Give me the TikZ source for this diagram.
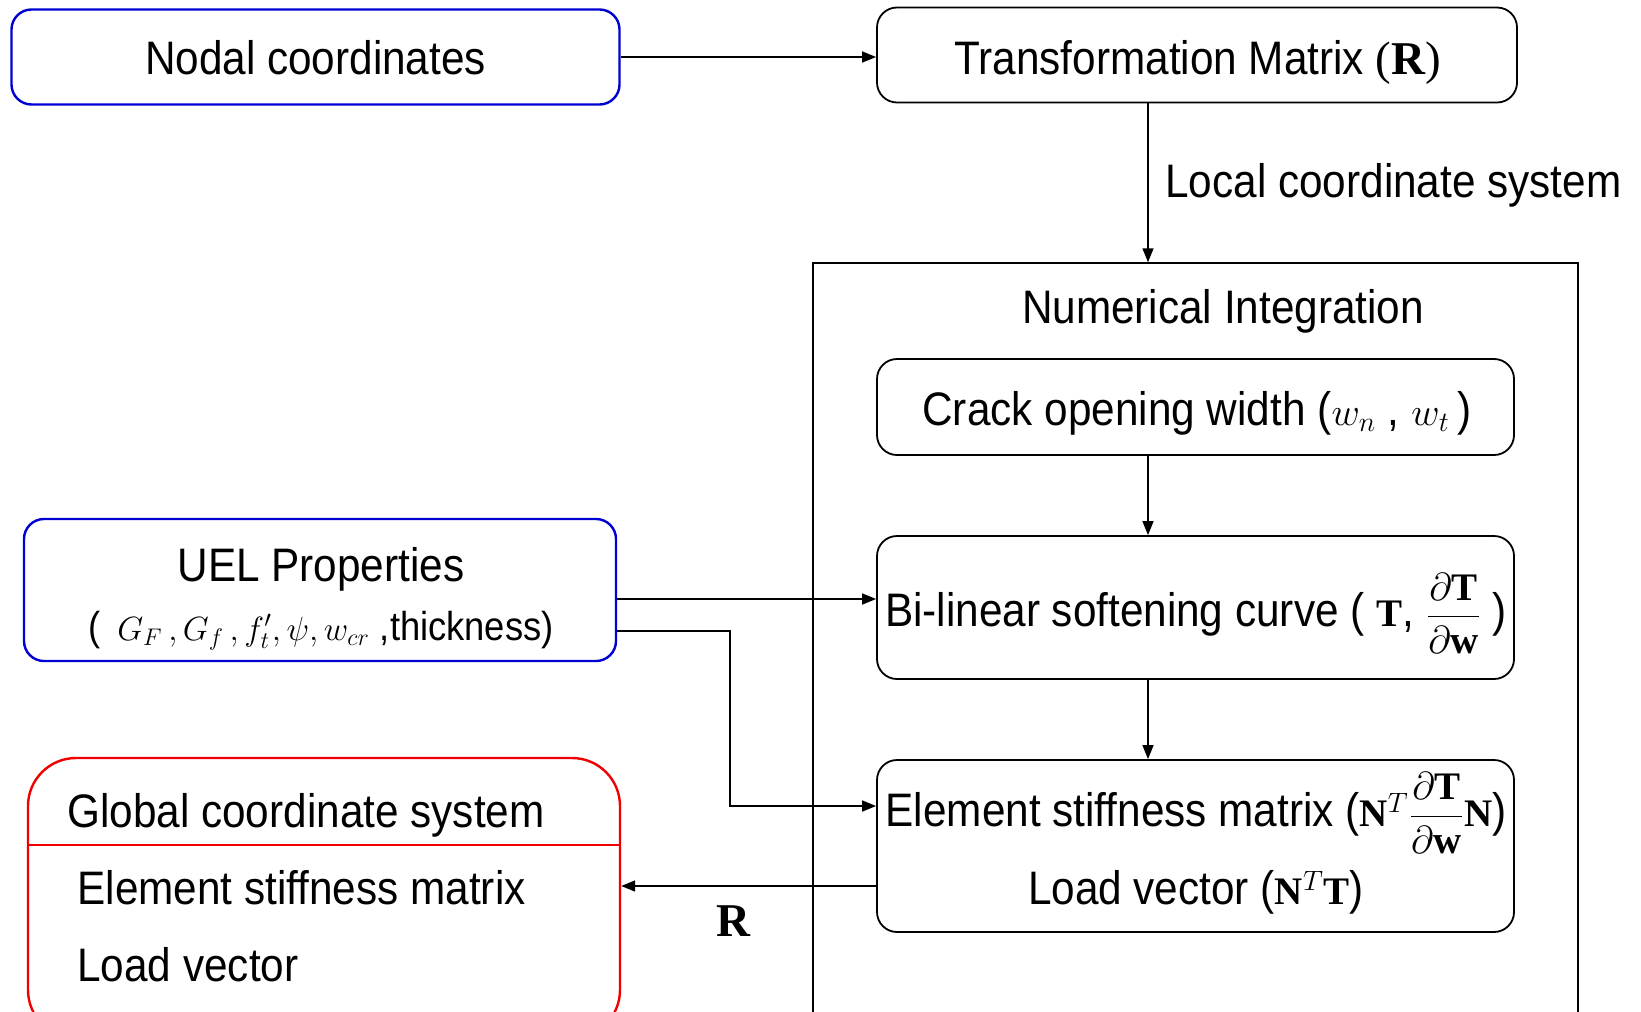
\RequirePackage{fix-cm}
\documentclass[tikz,border=0pt]{standalone}
\usepackage{amsmath}
\usepackage{fontspec}
\setmainfont{Liberation Sans}[FakeStretch=0.9]
\setmathrm{Liberation Serif}
\newfontfamily\serifrm{Liberation Serif}
\DeclareMathSizes{23.5}{19.5}{14}{11}
\DeclareMathSizes{20.2}{16.8}{12}{9.5}
\usepackage{tikz}
\usetikzlibrary{positioning,arrows.meta}

\definecolor{uelblue}{RGB}{0,0,210}
\definecolor{globred}{RGB}{240,0,0}

\begin{document}
\begin{tikzpicture}[x=0.5pt, y=-0.5pt,
    >={Triangle[length=7pt,width=5.5pt]},
    font=\fontsize{23.5pt}{30.5pt}\selectfont,
    blk/.style={%
      rectangle, rounded corners=10pt, draw=black, line width=0.9pt,
      inner sep=0pt
    },
    blu/.style={blk, draw=uelblue, line width=1.2pt},
    rd/.style={blk, draw=globred, rounded corners=24pt, line width=1.2pt},
    frame/.style={rectangle, draw=black, line width=0.75pt, inner sep=0pt},
    lbl/.style={inner sep=0pt, anchor=base},
    con/.style={->, line width=0.8pt}
]
    \useasboundingbox (0,0) rectangle (1641,1011);
    \clip (0,0) rectangle (1641,1011);

    % boxes
    \node[frame, minimum width=382.5pt, minimum height=388.5pt] (numint) at (1195.5,651.5) {};
    \node[blu, minimum width=304pt, minimum height=47.5pt] (nodal) at (315.5,57) {};
    \node[blk, minimum width=320pt, minimum height=47.5pt] (trans) at (1197,55) {};
    \node[blk, minimum width=318.5pt, minimum height=48pt] (crack) at (1195.5,407) {};
    \node[blk, minimum width=318.5pt, minimum height=71.5pt] (bilin) at (1195.5,607.5) {};
    \node[blk, minimum width=318.5pt, minimum height=86pt] (elem) at (1195.5,846) {};
    \node[blu, minimum width=296pt, minimum height=71pt] (uel) at (320,590) {};
    \node[rd, minimum width=296pt, minimum height=140pt] (glob) at (324,898) {};
    \draw[globred, line width=1.2pt] (glob.west |- 0,845) -- (glob.east |- 0,845);

    % texts
    \node[lbl] (nodaltxt) at (315.5,74.8) {Nodal coordinates};
    \node[lbl] (transtxt) at (1198,74.8)
        {Transformation Matrix {\serifrm(\textbf{R})}};
    \node[lbl, anchor=base west] (local) at (1165,197.3) {Local coordinate system};
    \node[lbl] (numtitle) at (1223,323.9) {Numerical Integration};
    \node[lbl] (cracktxt) at (1197,425.4) {Crack opening width ($w_n$ , $w_t$\,)};
    \node[lbl] (bilintxt) at (1196,626.4)
        {Bi-linear softening curve ( $\mathbf{T}$, $\dfrac{\partial\mathbf{T}}{\partial\mathbf{w}}$ )};
    \node[lbl] (elemk) at (1196,826.3)
        {Element stiffness matrix ($\mathbf{N}^{T}\dfrac{\partial\mathbf{T}}{\partial\mathbf{w}}\mathbf{N}$)};
    \node[lbl] (elemf) at (1196,904.8) {Load vector ($\mathbf{N}^{T}\mathbf{T}$)};
    \node[lbl] (ueltitle) at (321,581.4) {UEL Properties};
    \node[lbl, font=\fontsize{20.2pt}{26pt}\selectfont] (uelprops) at (321,640)
        {(\,\ $G_F\,,G_f\,,f_t',\psi,w_{cr}$ ,thickness)};
    \node[lbl] (globtitle) at (306,827.3) {Global coordinate system};
    \node[lbl, anchor=base west] (globk) at (77,904.8) {Element stiffness matrix};
    \node[lbl, anchor=base west] (globf) at (77,981.2) {Load vector};
    \node[lbl] (rlab) at (733,936.7) {\serifrm\bfseries R};

    \coordinate (ax) at (1148,0);
    \coordinate (bend) at (730,806);

    % connectors
    \draw[con] (nodal.east) -- (nodal.east -| trans.west);
    \draw[con] (trans.south -| ax) -- (numint.north -| ax);
    \draw[con] (crack.south -| ax) -- (bilin.north -| ax);
    \draw[con] (bilin.south -| ax) -- (elem.north -| ax);
    \draw[con] ([yshift=-4.5pt]uel.east) -- ([yshift=-4.5pt]uel.east -| bilin.west);
    \draw[con] ([yshift=-20.5pt]uel.east) -| (bend) -- (bend -| elem.west);
    \draw[con] ([yshift=-20pt]elem.west) -- ([yshift=-20pt]elem.west -| glob.east);
\end{tikzpicture}
\end{document}
